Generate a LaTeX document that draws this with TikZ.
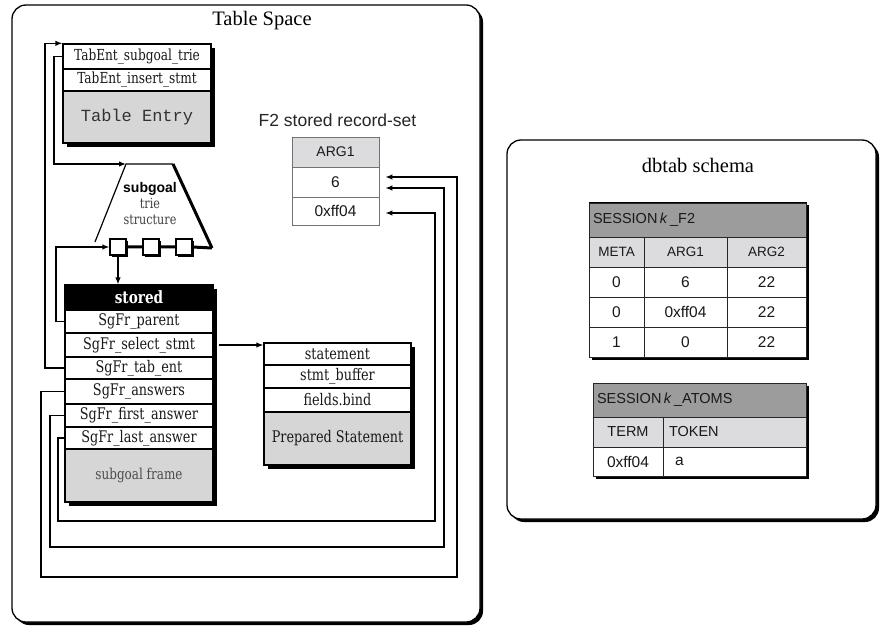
\documentclass[tikz,border=0pt]{standalone}
\usepackage{fontspec}
\setmainfont{Liberation Serif}
\setsansfont{Liberation Sans}
\setmonofont{Liberation Mono}
\newfontfamily\rowfont[FakeStretch=0.8]{DejaVu Serif}
\usetikzlibrary{arrows.meta,shadows,calc}
\newcommand\pxfs[1]{\fontsize{#1}{#1}\selectfont}
\definecolor{hdrgray}{HTML}{9C9C9C}
\definecolor{colgray}{HTML}{DCDCDE}
\definecolor{patgray}{HTML}{D6D6D6}
\begin{document}
\begin{tikzpicture}[x=1pt,y=-1pt,
  shad/.style={drop shadow={shadow xshift=#1,shadow yshift=-#1,opacity=1,fill=black}},
  panel/.style={draw, line width=1.3pt, fill=white, rounded corners=14pt, inner sep=0pt, shad=3pt},
  frame/.style={draw, line width=1.3pt, fill=white, inner sep=0pt, shad=4pt},
  rowbox/.style={draw, line width=1.1pt, fill=white, inner sep=0pt, minimum width=148pt, text=black!90, font={\rowfont\pxfs{16}}},
  graybox/.style={rowbox, fill=patgray},
  title/.style={inner sep=0pt, font={\rmfamily\pxfs{20.5}}},
  wire/.style={line width=1.3pt},
  arr/.style={line width=1.3pt, -{Latex[length=7pt,width=5.5pt]}},
  sq/.style={draw, line width=1.3pt, fill=white, minimum size=16pt, inner sep=0pt, shad=2pt},
  fcell/.style={draw=black!55, line width=0.8pt, inner sep=0pt, minimum width=87pt, text=black!90, font={\sffamily\pxfs{15.5}}},
  tframe/.style={draw, line width=1pt, fill=white, inner sep=0pt, shad=2.5pt},
  tcell/.style={draw=black!85, line width=0.9pt, inner sep=0pt, text=black!90, font={\sffamily\pxfs{15.5}}},
  thead/.style={tcell, fill=colgray, font={\sffamily\pxfs{13.5}}},
  tname/.style={tcell, fill=hdrgray, minimum height=34pt, inner xsep=4pt, align=left, font={\sffamily\pxfs{14.5}}}
]
\path[use as bounding box] (0,0) rectangle (880,628);

% ---------- panels ----------
\node[panel, minimum width=468pt, minimum height=617pt] (tspace) at (246,313.5) {};
\node[title] (tstitle) at (262,21) {Table Space};
\node[panel, minimum width=369pt, minimum height=379pt] (dbtab) at (691.5,329.5) {};
\node[title] (dbtitle) at (698,165) {dbtab schema};

% ---------- Table Entry ----------
\node[frame, minimum width=148pt, minimum height=99pt] (tebox) at (137,93.5) {};
\node[rowbox, minimum height=25pt, font={\rowfont\pxfs{15.2}}] (tetrie) at (137,56.5) {TabEnt\_subgoal\_trie};
\node[rowbox, minimum height=22pt, font={\rowfont\pxfs{15.2}}] (teins) at (137,80) {TabEnt\_insert\_stmt};
\node[graybox, minimum height=52pt, text=black!80, font={\ttfamily\pxfs{17}}] (tename) at (137,117) {Table Entry};

% ---------- subgoal trie ----------
\coordinate (trapTL) at (126,164);
\coordinate (trapTR) at (173,164);
\coordinate (trapBR) at (212,248);
\coordinate (trapBL) at (95,242);
\draw[line width=1.2pt] (trapBL) -- (trapTL) -- (trapTR);
\draw[line width=3pt] (trapTR) -- (trapBR);
\node[align=center, inner sep=0pt, text=black!75, font={\rowfont\fontsize{14}{16}\selectfont}] (triename) at (150,204)
  {{\sffamily\bfseries\color{black}subgoal}\\trie\\structure};
\node[sq] (sq1) at (118,247) {};
\node[sq] (sq2) at (151,247) {};
\node[sq] (sq3) at (184,247) {};
\draw[line width=3pt] (sq1.east) -- (sq2.west) (sq2.east) -- (sq3.west) (sq3.east) -- (trapBR);

% ---------- stored subgoal frame ----------
\node[frame, minimum width=148pt, minimum height=217pt] (stframe) at (139,393.5) {};
\node[rowbox, fill=black, text=white, minimum height=25pt, font={\rowfont\bfseries\pxfs{17}}] (sthdr) at (139,297.5) {stored};
\node[rowbox, minimum height=23pt] (parent) at (139,321.5) {SgFr\_parent};
\node[rowbox, minimum height=24pt] (select) at (139,345) {SgFr\_select\_stmt};
\node[rowbox, minimum height=22pt] (tabent) at (139,368) {SgFr\_tab\_ent};
\node[rowbox, minimum height=25pt] (answers) at (139,391.5) {SgFr\_answers};
\node[rowbox, minimum height=23pt] (first) at (139,415.5) {SgFr\_first\_answer};
\node[rowbox, minimum height=22pt] (last) at (139,438) {SgFr\_last\_answer};
\node[graybox, minimum height=53pt, text=black!70, font={\rowfont\pxfs{15}}] (sgframe) at (139,475.5) {subgoal frame};

% ---------- Prepared Statement ----------
\node[frame, minimum width=147pt, minimum height=122pt] (ppframe) at (337.5,404) {};
\node[rowbox, minimum width=147pt, minimum height=22pt] (stmt) at (337.5,354) {statement};
\node[rowbox, minimum width=147pt, minimum height=23pt] (buffer) at (337.5,376.5) {stmt\_buffer};
\node[rowbox, minimum width=147pt, minimum height=24pt] (bind) at (337.5,400) {fields.bind};
\node[graybox, minimum width=147pt, minimum height=53pt] (ppname) at (337.5,438.5) {Prepared Statement};

% ---------- F2 stored record-set ----------
\node[inner sep=0pt, text=black!85, font={\sffamily\pxfs{17.5}}] (f2label) at (337.5,120) {F2 stored record-set};
\node[fcell, fill=colgray, minimum height=30pt, font={\sffamily\pxfs{14}}] (f2hdr) at (335.5,152) {ARG1};
\node[fcell, minimum height=30pt] (f2six) at (335.5,182) {6};
\node[fcell, minimum height=28pt] (f2hex) at (335.5,211) {0xff04};
\coordinate (a1) at ($(f2six.east)+(6,-5)$);
\coordinate (a2) at ($(f2six.east)+(6,6)$);
\coordinate (a3) at ($(f2hex.east)+(6,2)$);

% ---------- connectors ----------
\draw[arr] (tetrie.west) -- ++(-8.5,0) |- (trapTL);
\draw[arr] (parent.west) -- ++(-8.5,0) |- (sq1.west);
\draw[arr] (tabent.west) -- ++(-19.5,0) |- (tebox.north west);
\draw[arr] (sq1.south) -- (sq1.south |- sthdr.north);
\draw[arr] ($(select.east)+(5,0)$) -- (select.east -| ppframe.west);
\draw[arr] (answers.west) -| (41,577) -| (457,177) -- (a1);
\draw[arr] (first.west) -| (50,547) -| (444,188) -- (a2);
\draw[arr] (last.west) -| (58,521) -| (435,213) -- (a3);

% ---------- SESSIONk_F2 ----------
\node[tframe, minimum width=217pt, minimum height=154pt] (f2frame) at (697.5,280) {};
\node[tname, text width=209pt] (f2name) at (697.5,220) {SESSION\,\textit{k}\,\_F2};
\node[thead, minimum width=55pt, minimum height=30pt] (hmeta) at (616.5,252) {META};
\node[thead, minimum width=83pt, minimum height=30pt] (harg1) at (685.5,252) {ARG1};
\node[thead, minimum width=79pt, minimum height=30pt] (harg2) at (766.5,252) {ARG2};
\node[tcell, minimum width=55pt, minimum height=30pt] (m1) at (616.5,282) {0};
\node[tcell, minimum width=83pt, minimum height=30pt] (x1) at (685.5,282) {6};
\node[tcell, minimum width=79pt, minimum height=30pt] (y1) at (766.5,282) {22};
\node[tcell, minimum width=55pt, minimum height=30pt] (m2) at (616.5,312) {0};
\node[tcell, minimum width=83pt, minimum height=30pt] (x2) at (685.5,312) {0xff04};
\node[tcell, minimum width=79pt, minimum height=30pt] (y2) at (766.5,312) {22};
\node[tcell, minimum width=55pt, minimum height=30pt] (m3) at (616.5,342) {1};
\node[tcell, minimum width=83pt, minimum height=30pt] (x3) at (685.5,342) {0};
\node[tcell, minimum width=79pt, minimum height=30pt] (y3) at (766.5,342) {22};

% ---------- SESSIONk_ATOMS ----------
\node[tframe, minimum width=213pt, minimum height=93pt] (atframe) at (699.5,429.5) {};
\node[tname, text width=205pt] (atname) at (699.5,400) {SESSION\,\textit{k}\,\_ATOMS};
\node[thead, minimum width=70pt, minimum height=30pt, font={\sffamily\pxfs{14.5}}] (hterm) at (628,432) {TERM};
\node[thead, minimum height=30pt, inner xsep=6pt, text width=131pt, align=left, font={\sffamily\pxfs{14.5}}] (htoken) at (734.5,432) {TOKEN};
\node[tcell, minimum width=70pt, minimum height=29pt] (term) at (628,461.5) {0xff04};
\node[tcell, minimum height=29pt, inner xsep=12pt, text width=119pt, align=left] (token) at (734.5,461.5) {a};
\end{tikzpicture}
\end{document}
